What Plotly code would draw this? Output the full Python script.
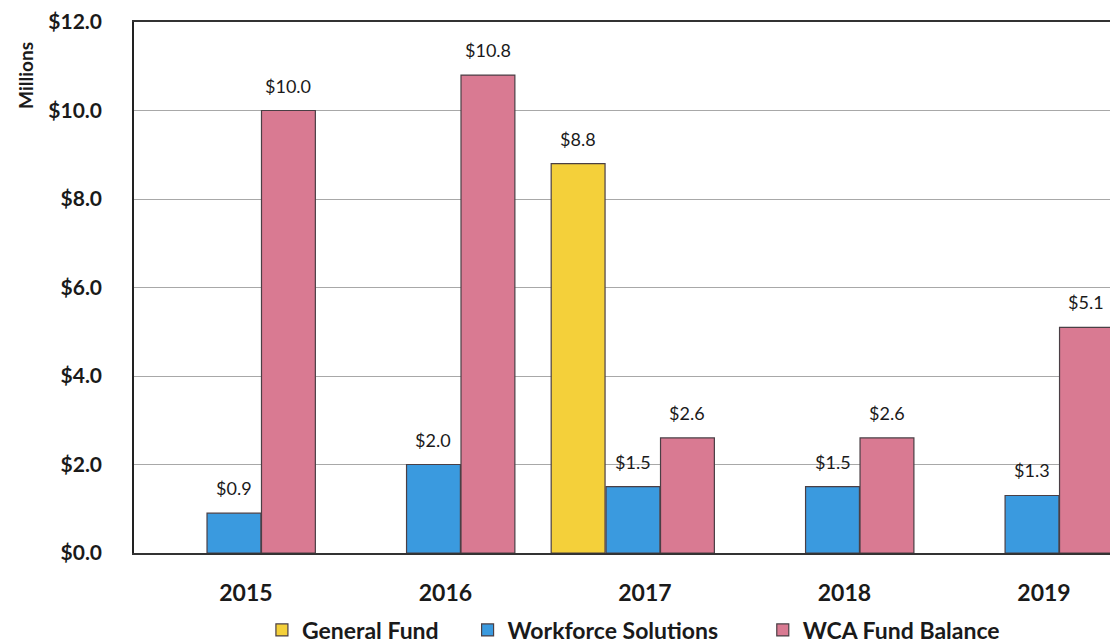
import plotly.graph_objects as go

YEARS = ["2015", "2016", "2017", "2018", "2019"]
GENERAL_FUND = [None, None, 8.8, None, None]
WORKFORCE = [0.9, 2.0, 1.5, 1.5, 1.3]
WCA_BALANCE = [10.0, 10.8, 2.6, 2.6, 5.1]
Y_TICKS = [0, 2, 4, 6, 8, 10, 12]

YELLOW = "#F4D03A"
BLUE = "#3A9ADF"
PINK = "#D97A92"
EDGE = "#4a3f45"
TEXT = "#1a1a1a"
FONT = "Lato"

BAR_W = 0.27

fig = go.Figure()

# name, values, colour, bar offset, legend id, legend x
series = [
    ("General Fund", GENERAL_FUND, YELLOW, -0.47, "legend", 0.130),
    ("Workforce Solutions", WORKFORCE, BLUE, -0.195, "legend2", 0.339),
    ("WCA Fund Balance", WCA_BALANCE, PINK, 0.078, "legend3", 0.639),
]

labels = []
legends = {}
for name, vals, color, off, leg, lx in series:
    xs = list(range(len(YEARS)))
    fig.add_trace(go.Bar(
        name=name,
        x=xs,
        y=vals,
        width=BAR_W,
        offset=off,
        legend=leg,
        marker=dict(color=color, line=dict(color=EDGE, width=1.2)),
    ))
    legends[leg] = dict(
        orientation="h",
        x=lx, xanchor="left",
        y=-0.145, yanchor="middle",
        font=dict(size=23, color=TEXT, family=FONT, weight="bold"),
        itemwidth=30,
        bgcolor="rgba(0,0,0,0)",
    )
    # value labels floated above each bar
    for x, v in zip(xs, vals):
        if v is None:
            continue
        labels.append(dict(
            x=x + off + BAR_W / 2, y=v,
            xref="x", yref="y",
            text=f"${v:.1f}",
            showarrow=False,
            yanchor="middle",
            yshift=25,
            font=dict(size=18, color=TEXT, family=FONT),
        ))

labels.append(dict(
    text="<b>Millions</b>",
    textangle=-90,
    xref="paper", yref="paper",
    x=-0.111, y=0.90,
    xanchor="center", yanchor="middle",
    showarrow=False,
    font=dict(size=19, color=TEXT, family=FONT),
))

fig.update_layout(
    width=1110,
    height=636,
    barmode="overlay",
    paper_bgcolor="white",
    plot_bgcolor="white",
    font=dict(family=FONT, color=TEXT),
    margin=dict(l=126, r=0, t=14, b=91, autoexpand=False),
    showlegend=True,
    annotations=labels,
    **legends,
)

fig.update_xaxes(
    tickmode="array",
    tickvals=list(range(len(YEARS))),
    ticktext=[f"<b>{y}</b>" for y in YEARS],
    range=[-0.561, 4.371],
    tickfont=dict(size=23, color=TEXT, family=FONT),
    ticklabelstandoff=19,
    showline=True, linecolor="#333", linewidth=1.5,
    mirror=True,
    showgrid=False,
    ticks="",
)

fig.update_yaxes(
    range=[0, 12],
    tickvals=Y_TICKS,
    ticktext=[f"<b>${v:.1f}</b>" for v in Y_TICKS],
    tickfont=dict(size=21, color=TEXT, family=FONT),
    ticklabelstandoff=26,
    showline=True, linecolor="#222", linewidth=1.5,
    showgrid=True, gridcolor="#a8a8a8", gridwidth=1,
    zeroline=False,
    ticks="",
)

fig.write_html("out.html")
